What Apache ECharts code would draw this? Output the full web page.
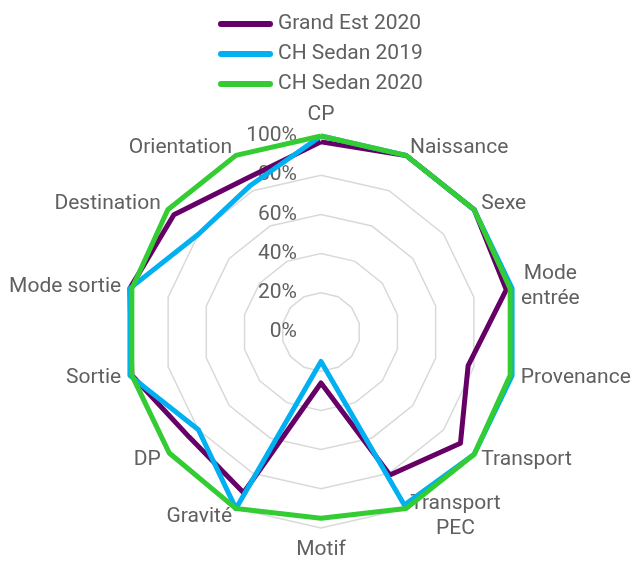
<!DOCTYPE html>
<html lang="fr">
<head>
  <meta charset="utf-8">
  <script src="https://cdn.jsdelivr.net/npm/echarts@6/dist/echarts.min.js"></script>
</head>
<body style="margin: 0;">
  <div id="container" style="width: 632px; height: 561px;"></div>
  <script type="text/javascript">
    // axes du radar, dans le sens horaire a partir du haut
    var criteres = ['CP', 'Naissance', 'Sexe', 'Mode\nentrée', 'Provenance', 'Transport',
      'Transport\nPEC', 'Motif', 'Gravité', 'DP', 'Sortie', 'Mode sortie', 'Destination', 'Orientation'];
    var grandEst2020 = [97, 100, 100, 97, 77, 91, 81, 26, 91, 86, 99, 100, 96, 87];
    var chSedan2019 = [100, 100, 100, 100, 100, 100, 98, 15, 100, 80, 100, 100, 80, 83];
    var chSedan2020 = [100, 100, 100, 99, 99, 100, 100, 95, 100, 99, 99, 99, 100, 100];
    var seriesNames = ['Grand Est 2020', 'CH Sedan 2019', 'CH Sedan 2020'];
    var colors = ['#660066', '#00b0f0', '#33cc33'];

    var textColor = '#606060';
    var font = 'Roboto';
    var fontSize = 21;

    // echarts tourne dans le sens anti-horaire : on inverse apres le premier
    function horaire(arr) {
      return [arr[0]].concat(arr.slice(1).reverse());
    }

    // largeur du texte, pour centrer les noms sur deux lignes
    var ctx = document.createElement('canvas').getContext('2d');
    ctx.font = fontSize + 'px ' + font;
    function largeur(name) {
      return Math.ceil(Math.max.apply(null, name.split('\n').map(function (l) {
        return ctx.measureText(l).width;
      })));
    }

    var rich = {};
    criteres.forEach(function (name) {
      if (name.indexOf('\n') < 0) return;
      rich['c' + largeur(name)] = {
        width: largeur(name), align: 'center', lineHeight: 25,
        fontSize: fontSize, fontFamily: font, color: textColor
      };
    });

    var indicators = horaire(criteres).map(function (name, i) {
      var ind = { name: name, min: 0, max: 100 };
      if (i === 0) {
        // graduations seulement sur l'axe CP
        ind.axisLabel = {
          show: true,
          color: textColor,
          fontFamily: font,
          fontSize: fontSize,
          margin: 24,
          formatter: '{value}%'
        };
      }
      return ind;
    });

    var allData = [grandEst2020, chSedan2019, chSedan2020];

    var myChart = echarts.init(document.getElementById('container'), null, { renderer: 'canvas' });
    var option = {
      color: colors,
      legend: {
        orient: 'vertical',
        left: 213,
        top: 8,
        itemWidth: 55,
        itemHeight: 6,
        itemGap: 8,
        icon: 'path://M3,0 L52,0 A3,3 0 0 1 52,6 L3,6 A3,3 0 0 1 3,0 Z',
        textStyle: { color: textColor, fontFamily: font, fontSize: fontSize, lineHeight: 22 },
        data: seriesNames
      },
      radar: {
        center: [321, 332],
        radius: 196,
        startAngle: 90,
        shape: 'polygon',
        splitNumber: 5,
        indicator: indicators,
        axisName: {
          color: textColor,
          fontFamily: font,
          fontSize: fontSize,
          lineHeight: 25,
          formatter: function (name) {
            if (name.indexOf('\n') < 0) return name;
            var w = largeur(name);
            return name.split('\n').map(function (l) { return '{c' + w + '|' + l + '}'; }).join('\n');
          },
          rich: rich
        },
        nameGap: 9,
        axisLine: { show: false },
        axisTick: { show: false },
        axisLabel: { show: false },
        splitArea: { show: false },
        splitLine: { lineStyle: { color: '#d9d9d9', width: 1.5 } }
      },
      series: [{
        type: 'radar',
        symbol: 'none',
        data: allData.map(function (vals, i) {
          return {
            name: seriesNames[i],
            value: horaire(vals),
            lineStyle: { color: colors[i], width: 5, join: 'round' }
          };
        })
      }]
    };
    myChart.setOption(option);
  </script>
</body>
</html>
